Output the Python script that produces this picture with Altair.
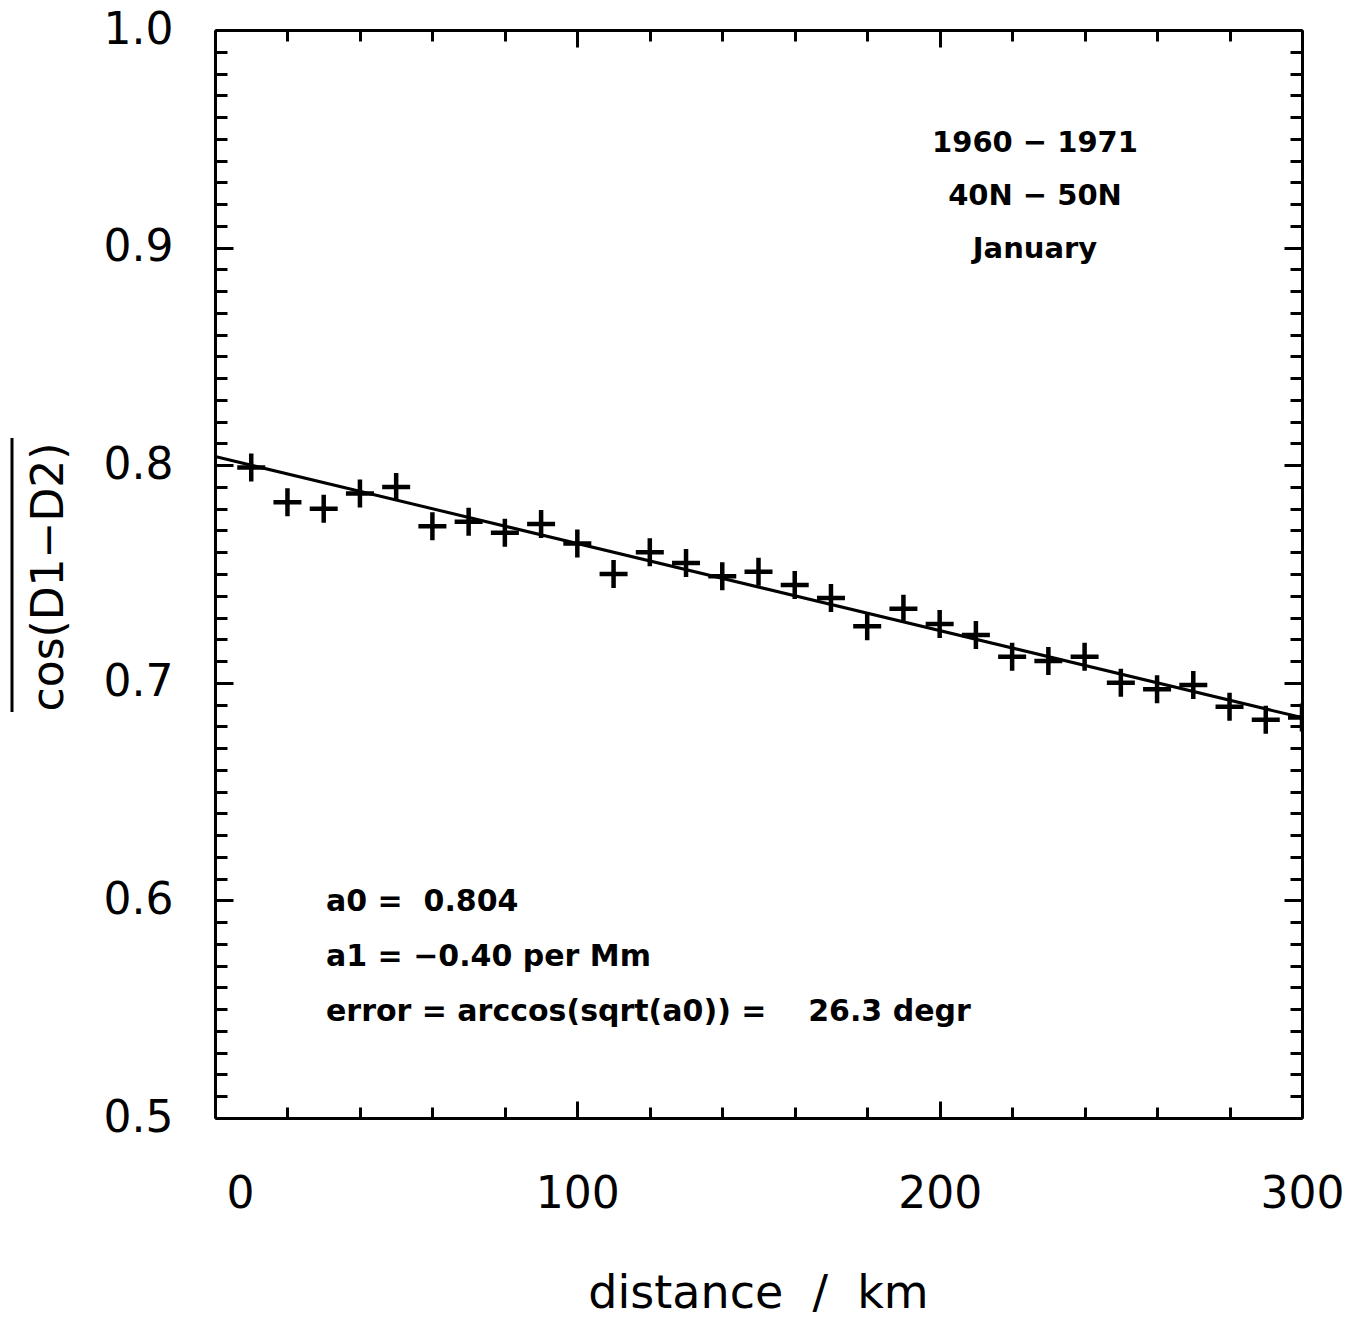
import altair as alt
import pandas as pd

# ---------------- data ----------------
distance_km = [10, 20, 30, 40, 50, 60, 70, 80, 90, 100,
               110, 120, 130, 140, 150, 160, 170, 180, 190, 200,
               210, 220, 230, 240, 250, 260, 270, 280, 290, 300]
mean_cos = [0.799, 0.783, 0.780, 0.787, 0.790, 0.772, 0.774, 0.769, 0.773, 0.764,
            0.750, 0.760, 0.755, 0.749, 0.751, 0.745, 0.739, 0.726, 0.734, 0.727,
            0.722, 0.712, 0.710, 0.712, 0.700, 0.697, 0.699, 0.689, 0.683, 0.684]

A0 = 0.804          # intercept
A1 = -0.40          # slope per Mm
fit_distance = [0, 300]

period_lines = ["1960 \u2212 1971", "40N \u2212 50N", "January"]
fit_lines = ["a0 =\u00a0 0.804",
             "a1 = \u22120.40 per Mm",
             "error = arccos(sqrt(a0)) = \u00a0\u00a0\u00a026.3 degr"]

x_major = [0, 100, 200, 300]
x_minor = [20, 40, 60, 80, 120, 140, 160, 180, 220, 240, 260, 280]
y_major = [0.5, 0.6, 0.7, 0.8, 0.9, 1.0]
y_minor = [round(0.5 + 0.01 * i, 2) for i in range(51) if i % 10 != 0]

x_title = "distance\u00a0 /\u00a0 km"
y_title = "cos(D1\u2212D2)"

# ---------------- tables ----------------
pts = pd.DataFrame({"distance": distance_km, "cos": mean_cos})
fit = pd.DataFrame({"distance": fit_distance,
                    "cos": [A0 + A1 * d / 1000.0 for d in fit_distance]})
one = pd.DataFrame({"k": [0]})

W, H = 1087, 1088
FONT = "DejaVu Sans"

xs = alt.Scale(domain=[0, 300], nice=False, zero=False)
ys = alt.Scale(domain=[0.5, 1.0], nice=False, zero=False)


def tick_axis(orient, values, size):
    return alt.Axis(orient=orient, values=values, tickSize=size, offset=-size,
                    tickWidth=3, tickColor="black", ticks=True, labels=False,
                    domain=False, grid=False, title=None)


def frame_axis(orient):
    return alt.Axis(orient=orient, ticks=False, labels=False, domain=True,
                    domainColor="black", domainWidth=3, grid=False, title=None)


label_x_axis = alt.Axis(orient="bottom", values=x_major, ticks=False, tickSize=0,
                        domain=True, domainColor="black", domainWidth=3,
                        grid=False, labels=True, labelFont=FONT,
                        labelFontSize=44, labelColor="black", labelPadding=54,
                        labelFlush=False, labelOverlap=False,
                        labelOffset={"condition": {"test": "datum.value === 0", "value": 25},
                                     "value": 0},
                        title=None)
label_y_axis = alt.Axis(orient="left", values=y_major, format=".1f", ticks=False,
                        tickSize=0, domain=True, domainColor="black", domainWidth=3,
                        grid=False, labels=True,
                        labelFont=FONT, labelFontSize=44, labelColor="black",
                        labelPadding=42, labelFlush=False, labelOverlap=False,
                        title=None)

plus = "M-1,0L1,0M0,-1L0,1"

points = alt.Chart(pts).mark_point(
    shape=plus, size=784, filled=False, color="black", stroke="black",
    strokeWidth=4.5, opacity=1, clip=True, strokeCap="butt"
).encode(
    x=alt.X("distance:Q", scale=xs, axis=label_x_axis),
    y=alt.Y("cos:Q", scale=ys, axis=label_y_axis),
)

fit_line = alt.Chart(fit).mark_line(color="black", strokeWidth=3, clip=True).encode(
    x=alt.X("distance:Q", scale=xs, axis=tick_axis("bottom", x_major, 17)),
    y=alt.Y("cos:Q", scale=ys, axis=tick_axis("left", y_major, 18)),
)

ghost = alt.Chart(pts).mark_point(opacity=0)
minor_bl = ghost.encode(
    x=alt.X("distance:Q", scale=xs, axis=tick_axis("bottom", x_minor, 11)),
    y=alt.Y("cos:Q", scale=ys, axis=tick_axis("left", y_minor, 12)),
)
major_tr = ghost.encode(
    x=alt.X("distance:Q", scale=xs, axis=tick_axis("top", x_major, 17)),
    y=alt.Y("cos:Q", scale=ys, axis=tick_axis("right", y_major, 18)),
)
minor_tr = ghost.encode(
    x=alt.X("distance:Q", scale=xs, axis=tick_axis("top", x_minor, 11)),
    y=alt.Y("cos:Q", scale=ys, axis=tick_axis("right", y_minor, 12)),
)
frame_tr = ghost.encode(
    x=alt.X("distance:Q", scale=xs, axis=frame_axis("top")),
    y=alt.Y("cos:Q", scale=ys, axis=frame_axis("right")),
)

period_txt = alt.Chart(pd.DataFrame({"t": ["\n".join(period_lines)]})).mark_text(
    font=FONT, fontWeight="bold", fontSize=29, color="black", align="center",
    baseline="alphabetic", lineBreak="\n", lineHeight=53
).encode(x=alt.value(820), y=alt.value(122), text="t:N")

fit_txt = alt.Chart(pd.DataFrame({"t": ["\n".join(fit_lines)]})).mark_text(
    font=FONT, fontWeight="bold", fontSize=30, color="black", align="left",
    baseline="alphabetic", lineBreak="\n", lineHeight=55
).encode(x=alt.value(111), y=alt.value(881), text="t:N")

xtitle = alt.Chart(pd.DataFrame({"t": [x_title]})).mark_text(
    font=FONT, fontSize=46, color="black", align="center", baseline="alphabetic"
).encode(x=alt.value(W / 2), y=alt.value(1278), text="t:N")

ytitle = alt.Chart(pd.DataFrame({"t": [y_title]})).mark_text(
    font=FONT, fontSize=44, color="black", align="center", baseline="middle", angle=270
).encode(x=alt.value(-165), y=alt.value(547), text="t:N")

overline = alt.Chart(one).mark_rule(color="black", strokeWidth=3).encode(
    x=alt.value(-203), y=alt.value(408), y2=alt.value(682)
)

chart = alt.layer(
    minor_bl, major_tr, minor_tr, frame_tr, fit_line, points,
    period_txt, fit_txt, xtitle, ytitle, overline
).resolve_axis(
    x="independent", y="independent"
).properties(
    width=W, height=H,
    padding={"left": 207, "top": 22, "right": 48, "bottom": 200},
    autosize=alt.AutoSizeParams(type="none"),
).configure_view(
    stroke=None
)

chart.save("out.html", embed_options={"renderer": "svg", "actions": False})
